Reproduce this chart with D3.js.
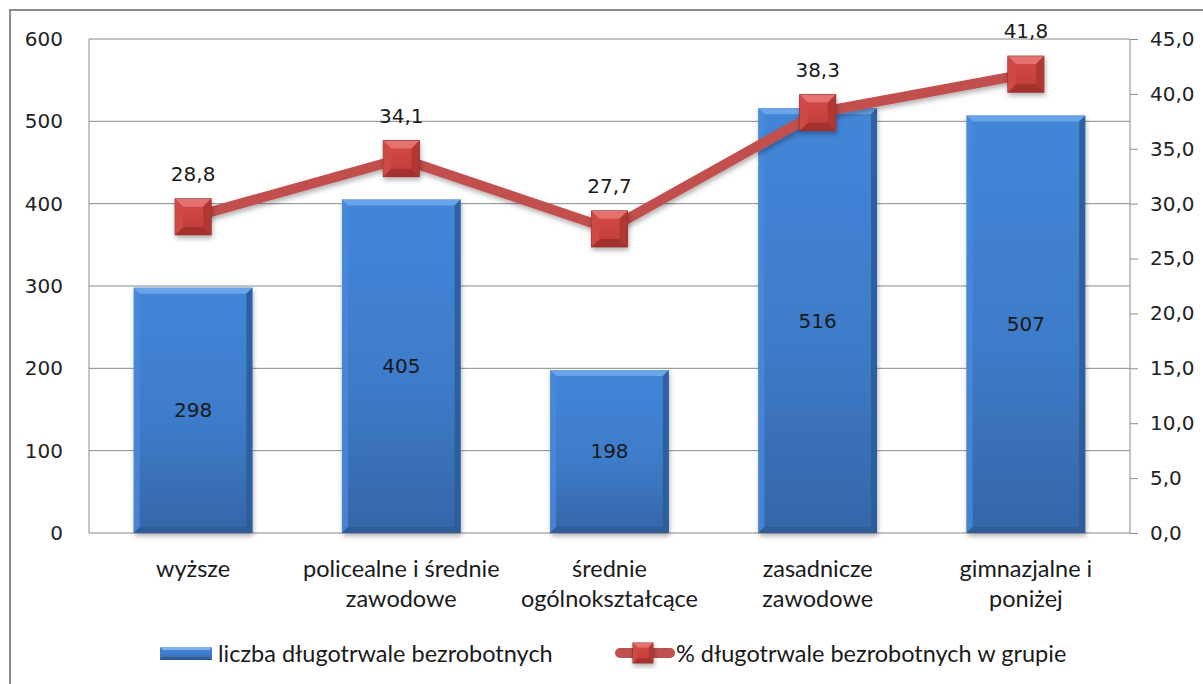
<!DOCTYPE html>
<html>
<head>
<meta charset="utf-8">
<script src="https://cdn.jsdelivr.net/npm/d3@7"></script>
<style>
  body { margin: 0; background: #fff; }
  svg { display: block; }
</style>
</head>
<body>
<div id="chart"></div>
<script>
// data
var categories = ["wyższe", "policealne i średnie zawodowe", "średnie ogólnokształcące", "zasadnicze zawodowe", "gimnazjalne i poniżej"];
var catLines = [["wyższe"], ["policealne i średnie", "zawodowe"], ["średnie", "ogólnokształcące"], ["zasadnicze", "zawodowe"], ["gimnazjalne i", "poniżej"]];
var counts = [298, 405, 198, 516, 507];
var percents = [28.8, 34.1, 27.7, 38.3, 41.8];
var leftTicks = [0, 100, 200, 300, 400, 500, 600];
var rightTicks = [0, 5, 10, 15, 20, 25, 30, 35, 40, 45];
var seriesNames = ["liczba długotrwale bezrobotnych", "% długotrwale bezrobotnych w grupie"];

var width = 1203, height = 684;
var plot = { left: 89, right: 1130, top: 39, bottom: 533 };

var svg = d3.select("#chart").append("svg")
  .attr("width", width)
  .attr("height", height);

var defs = svg.append("defs");

// bar gradient
var bg = defs.append("linearGradient").attr("id", "barGrad")
  .attr("x1", 0).attr("y1", 0).attr("x2", 0).attr("y2", 1);
bg.append("stop").attr("offset", "0%").attr("stop-color", "#4386d8");
bg.append("stop").attr("offset", "55%").attr("stop-color", "#3e7bc9");
bg.append("stop").attr("offset", "100%").attr("stop-color", "#3566a8");

var mg = defs.append("linearGradient").attr("id", "mkGrad")
  .attr("x1", 0).attr("y1", 0).attr("x2", 0).attr("y2", 1);
mg.append("stop").attr("offset", "0%").attr("stop-color", "#d64a46");
mg.append("stop").attr("offset", "100%").attr("stop-color", "#bf3d39");

var sh = defs.append("filter").attr("id", "shadow")
  .attr("x", "-20%").attr("y", "-20%").attr("width", "150%").attr("height", "150%");
sh.append("feDropShadow").attr("dx", 1).attr("dy", 3).attr("stdDeviation", 2.5)
  .attr("flood-color", "#000").attr("flood-opacity", 0.3);

// outer frame
svg.append("rect")
  .attr("x", 10).attr("y", 10)
  .attr("width", width + 10).attr("height", height + 10)
  .attr("fill", "none").attr("stroke", "#8c8c8c").attr("stroke-width", 2);

var x = d3.scaleBand()
  .domain(categories)
  .range([plot.left, plot.right])
  .paddingInner(0.43)
  .paddingOuter(0.215);

var yL = d3.scaleLinear().domain([0, 600]).range([plot.bottom, plot.top]);
var yR = d3.scaleLinear().domain([0, 45]).range([plot.bottom, plot.top]);

// gridlines
svg.append("g").selectAll("line")
  .data(leftTicks)
  .enter().append("line")
    .attr("x1", plot.left).attr("x2", plot.right)
    .attr("y1", function(d) { return yL(d); })
    .attr("y2", function(d) { return yL(d); })
    .attr("stroke", "#8a8a8a").attr("stroke-width", 1);

// left border of plot area
svg.append("line")
  .attr("x1", plot.left).attr("x2", plot.left)
  .attr("y1", plot.top).attr("y2", plot.bottom)
  .attr("stroke", "#8a8a8a");

// left axis labels
svg.append("g").selectAll("text")
  .data(leftTicks)
  .enter().append("text")
    .attr("x", 63)
    .attr("y", function(d) { return yL(d); })
    .attr("dy", "0.35em")
    .attr("text-anchor", "end")
    .attr("font-family", "DejaVu Sans, sans-serif")
    .attr("font-size", 20)
    .attr("fill", "#222")
    .text(function(d) { return d; });

// right axis
var rAxis = svg.append("g")
  .attr("transform", "translate(" + plot.right + ",0)")
  .call(d3.axisRight(yR).tickValues(rightTicks).tickSize(8).tickPadding(12)
    .tickFormat(function(d) { return d3.format(".1f")(d).replace(".", ","); }));
rAxis.select(".domain").attr("stroke", "#8a8a8a").attr("d", "M0," + plot.top + "V" + plot.bottom);
rAxis.selectAll(".tick line").attr("stroke", "#8a8a8a");
rAxis.selectAll(".tick text")
  .attr("font-family", "DejaVu Sans, sans-serif")
  .attr("font-size", 20)
  .attr("fill", "#222");

// bars
var bw = x.bandwidth();
var bars = svg.append("g").selectAll("g.bar")
  .data(counts)
  .enter().append("g")
    .attr("class", "bar")
    .attr("transform", function(d, i) { return "translate(" + x(categories[i]) + "," + yL(d) + ")"; });

bars.append("rect")
  .attr("width", bw)
  .attr("height", function(d) { return yL(0) - yL(d); })
  .attr("fill", "url(#barGrad)")
  .attr("filter", "url(#shadow)");

var bev = 6;
// top bevel (light)
bars.append("path")
  .attr("d", "M0,0 L" + bw + ",0 L" + (bw - bev) + "," + bev + " L" + bev + "," + bev + "Z")
  .attr("fill", "#6aa4e8");
// left bevel
bars.append("path")
  .attr("d", function(d) {
    var h = yL(0) - yL(d);
    return "M0,0 L" + bev + "," + bev + " L" + bev + "," + (h - bev) + " L0," + h + "Z";
  })
  .attr("fill", "#4a8ad9").attr("opacity", 0.8);
// right bevel (dark)
bars.append("path")
  .attr("d", function(d) {
    var h = yL(0) - yL(d);
    return "M" + bw + ",0 L" + (bw - bev) + "," + bev + " L" + (bw - bev) + "," + (h - bev) + " L" + bw + "," + h + "Z";
  })
  .attr("fill", "#2c5a96").attr("opacity", 0.85);
// bottom bevel
bars.append("path")
  .attr("d", function(d) {
    var h = yL(0) - yL(d);
    return "M0," + h + " L" + bev + "," + (h - bev) + " L" + (bw - bev) + "," + (h - bev) + " L" + bw + "," + h + "Z";
  })
  .attr("fill", "#2d5a92").attr("opacity", 0.8);

// bar labels
svg.append("g").selectAll("text")
  .data(counts)
  .enter().append("text")
    .attr("x", function(d, i) { return x(categories[i]) + bw / 2; })
    .attr("y", function(d) { return (yL(d) + yL(0)) / 2; })
    .attr("dy", "0.35em")
    .attr("text-anchor", "middle")
    .attr("font-family", "DejaVu Sans, sans-serif")
    .attr("font-size", 20)
    .attr("fill", "#1a1a1a")
    .text(function(d) { return d; });

// line
var line = d3.line()
  .x(function(d, i) { return x(categories[i]) + bw / 2; })
  .y(function(d) { return yR(d); });

svg.append("path")
  .datum(percents)
  .attr("d", line)
  .attr("fill", "none")
  .attr("stroke", "#c0504d")
  .attr("stroke-width", 10)
  .attr("filter", "url(#shadow)");

// markers
function marker(g, s) {
  var b = s * 0.22;
  g.append("rect").attr("x", -s / 2).attr("y", -s / 2).attr("width", s).attr("height", s)
    .attr("fill", "url(#mkGrad)").attr("stroke", "#8e2e2b").attr("stroke-width", 1)
    .attr("filter", "url(#shadow)");
  g.append("path").attr("d", "M" + (-s/2) + "," + (-s/2) + " L" + (s/2) + "," + (-s/2) + " L" + (s/2 - b) + "," + (-s/2 + b) + " L" + (-s/2 + b) + "," + (-s/2 + b) + "Z")
    .attr("fill", "#e4726e");
  g.append("path").attr("d", "M" + (s/2) + "," + (-s/2) + " L" + (s/2 - b) + "," + (-s/2 + b) + " L" + (s/2 - b) + "," + (s/2 - b) + " L" + (s/2) + "," + (s/2) + "Z")
    .attr("fill", "#b13733");
  g.append("path").attr("d", "M" + (-s/2) + "," + (s/2) + " L" + (-s/2 + b) + "," + (s/2 - b) + " L" + (s/2 - b) + "," + (s/2 - b) + " L" + (s/2) + "," + (s/2) + "Z")
    .attr("fill", "#a3312d");
  g.append("path").attr("d", "M" + (-s/2) + "," + (-s/2) + " L" + (-s/2 + b) + "," + (-s/2 + b) + " L" + (-s/2 + b) + "," + (s/2 - b) + " L" + (-s/2) + "," + (s/2) + "Z")
    .attr("fill", "#cf4a46");
}

svg.append("g").selectAll("g")
  .data(percents)
  .enter().append("g")
    .attr("transform", function(d, i) { return "translate(" + (x(categories[i]) + bw / 2) + "," + yR(d) + ")"; })
    .each(function() { marker(d3.select(this), 36); });

// line labels
svg.append("g").selectAll("text")
  .data(percents)
  .enter().append("text")
    .attr("x", function(d, i) { return x(categories[i]) + bw / 2; })
    .attr("y", function(d) { return yR(d) - 43; })
    .attr("dy", "0.35em")
    .attr("text-anchor", "middle")
    .attr("font-family", "DejaVu Sans, sans-serif")
    .attr("font-size", 20)
    .attr("fill", "#1a1a1a")
    .text(function(d) { return d3.format(".1f")(d).replace(".", ","); });

// category labels
var cl = svg.append("g").selectAll("text")
  .data(catLines)
  .enter().append("text")
    .attr("x", function(d, i) { return x(categories[i]) + bw / 2; })
    .attr("y", 577)
    .attr("text-anchor", "middle")
    .attr("font-family", "Lato, sans-serif")
    .attr("font-size", 23.5)
    .attr("fill", "#1a1a1a");
cl.selectAll("tspan")
  .data(function(d) { return d; })
  .enter().append("tspan")
    .attr("x", function() { return d3.select(this.parentNode).attr("x"); })
    .attr("dy", function(d, j) { return j === 0 ? 0 : 30; })
    .text(function(d) { return d; });

// legend
var lg = svg.append("g");
var sw = lg.append("g").attr("transform", "translate(160,647)");
sw.append("rect").attr("width", 52).attr("height", 13).attr("fill", "url(#barGrad)");
sw.append("path").attr("d", "M0,0 L52,0 L49,3 L3,3Z").attr("fill", "#7fb2ec");
sw.append("path").attr("d", "M0,13 L3,10 L49,10 L52,13Z").attr("fill", "#2d5a92");
lg.append("text")
  .attr("x", 218).attr("y", 654).attr("dy", "0.35em")
  .attr("font-family", "Lato, sans-serif").attr("font-size", 23.5).attr("fill", "#1a1a1a")
  .text(seriesNames[0]);

lg.append("line")
  .attr("x1", 620).attr("x2", 670).attr("y1", 653).attr("y2", 653)
  .attr("stroke", "#c0504d").attr("stroke-width", 10).attr("stroke-linecap", "round");
marker(lg.append("g").attr("transform", "translate(643,653)"), 20);
lg.append("text")
  .attr("x", 676).attr("y", 654).attr("dy", "0.35em")
  .attr("font-family", "Lato, sans-serif").attr("font-size", 23.5).attr("fill", "#1a1a1a")
  .text(seriesNames[1]);
</script>
</body>
</html>
